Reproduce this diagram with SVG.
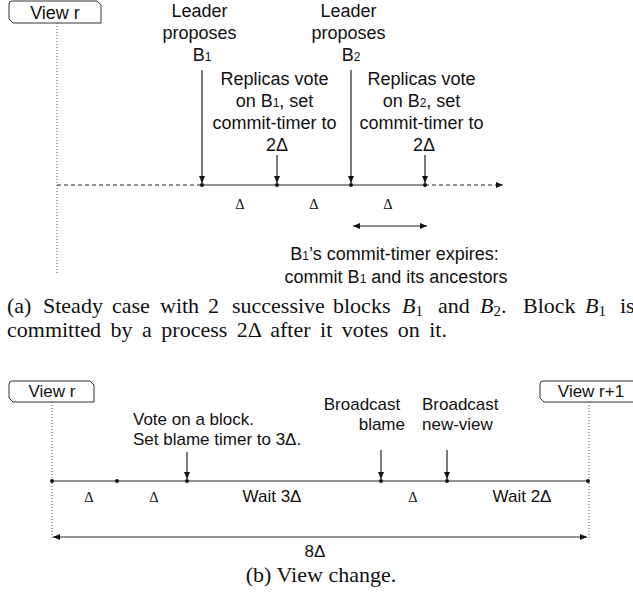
<svg xmlns="http://www.w3.org/2000/svg" width="633" height="598" viewBox="0 0 633 598">
  <style>
    .sans { font-family: "Liberation Sans", Arial, sans-serif; fill: #111; }
    .a { font-size: 18px; }
    .b { font-size: 17px; }
    .serif { font-family: "Liberation Serif", "Times New Roman", serif; fill: #111; }
    .cap { font-size: 22px; }
    .delta { font-size: 14.5px; }
    .sub { font-size: 12px; }
    .line { stroke: #222; stroke-width: 1.2; fill: none; }
    .dash { stroke: #222; stroke-width: 1.2; stroke-dasharray: 4 3; fill: none; }
    .dot { stroke: #555; stroke-width: 1; stroke-dasharray: 1 2; fill: none; }
    .tab { stroke: #333; stroke-width: 1; fill: #fff; }
    .pt { fill: #111; }
  </style>
  <defs>
    <marker id="ah" markerUnits="userSpaceOnUse" markerWidth="8" markerHeight="6" refX="7" refY="3" orient="auto-start-reverse">
      <path d="M0,0 L7,3 L0,6 z" fill="#111"/>
    </marker>
  </defs>
  <rect width="633" height="598" fill="#fff"/>

  <!-- ===== Part (a) ===== -->
  <g id="a-view-r">
    <path class="tab" d="M12,1 H97 L101,5 V23 H13 L9,19 V4 Q9,1 12,1 Z"/>
    <text class="sans a" x="55" y="19" text-anchor="middle">View r</text>
  </g>

  <g id="a-connectors">
    <line class="dot" x1="57" y1="23" x2="57" y2="273"/>
    <line class="dash" x1="57" y1="185" x2="202" y2="185"/>
    <line class="line" x1="202" y1="185" x2="425" y2="185"/>
    <line class="dash" x1="425" y1="185" x2="503" y2="185" marker-end="url(#ah)"/>
    <line class="line" x1="202" y1="70" x2="202" y2="183" marker-end="url(#ah)"/>
    <line class="line" x1="277" y1="155" x2="277" y2="183" marker-end="url(#ah)"/>
    <line class="line" x1="351" y1="70" x2="351" y2="183" marker-end="url(#ah)"/>
    <line class="line" x1="425" y1="155" x2="425" y2="183" marker-end="url(#ah)"/>
    <line class="line" x1="353" y1="226" x2="427" y2="226" marker-start="url(#ah)" marker-end="url(#ah)"/>
    <circle class="pt" cx="202" cy="185" r="2"/>
    <circle class="pt" cx="277" cy="185" r="2"/>
    <circle class="pt" cx="351" cy="185" r="2"/>
    <circle class="pt" cx="425" cy="185" r="2"/>
  </g>

  <g id="a-leader-b1">
    <text class="sans a" text-anchor="middle">
      <tspan x="202" y="17">Leader</tspan>
      <tspan x="202" y="39">proposes</tspan>
      <tspan x="202" y="61">B<tspan class="sub">1</tspan></tspan>
    </text>
  </g>
  <g id="a-vote-b1">
    <text class="sans a" text-anchor="middle">
      <tspan x="277" y="85">Replicas vote</tspan>
      <tspan x="277" y="107">on B<tspan class="sub">1</tspan>, set</tspan>
      <tspan x="277" y="129">commit-timer to</tspan>
      <tspan x="277" y="151">2Δ</tspan>
    </text>
  </g>
  <g id="a-leader-b2">
    <text class="sans a" text-anchor="middle">
      <tspan x="351" y="17">Leader</tspan>
      <tspan x="351" y="39">proposes</tspan>
      <tspan x="351" y="61">B<tspan class="sub">2</tspan></tspan>
    </text>
  </g>
  <g id="a-vote-b2">
    <text class="sans a" text-anchor="middle">
      <tspan x="424" y="85">Replicas vote</tspan>
      <tspan x="424" y="107">on B<tspan class="sub">2</tspan>, set</tspan>
      <tspan x="424" y="129">commit-timer to</tspan>
      <tspan x="424" y="151">2Δ</tspan>
    </text>
  </g>
  <g id="a-deltas">
    <text class="serif delta" x="240" y="209" text-anchor="middle">Δ</text>
    <text class="serif delta" x="314" y="209" text-anchor="middle">Δ</text>
    <text class="serif delta" x="388" y="209" text-anchor="middle">Δ</text>
  </g>
  <g id="a-commit">
    <text class="sans a" text-anchor="middle">
      <tspan x="397" y="260">B<tspan class="sub">1</tspan>’s commit-timer expires:</tspan>
      <tspan x="396" y="283">commit B<tspan class="sub">1</tspan> and its ancestors</tspan>
    </text>
  </g>
  <g id="a-caption">
    <text class="serif cap" y="313">
      <tspan x="7">(a)</tspan>
      <tspan x="43">Steady</tspan>
      <tspan x="112">case</tspan>
      <tspan x="160">with</tspan>
      <tspan x="208">2</tspan>
      <tspan x="232">successive</tspan>
      <tspan x="333">blocks</tspan>
      <tspan x="402" font-style="italic">B</tspan><tspan font-size="15" dy="3">1</tspan>
      <tspan x="438" dy="-3">and</tspan>
      <tspan x="480" font-style="italic">B</tspan><tspan font-size="15" dy="3">2</tspan><tspan dy="-3">.</tspan>
      <tspan x="523">Block</tspan>
      <tspan x="585" font-style="italic">B</tspan><tspan font-size="15" dy="3">1</tspan>
      <tspan x="620" dy="-3">is</tspan>
    </text>
    <text class="serif cap" x="7" y="337" word-spacing="4">committed by a process 2Δ after it votes on it.</text>
  </g>

  <!-- ===== Part (b) ===== -->
  <g id="b-view-r">
    <path class="tab" d="M12,381 H90 L94,385 V402 H13 L9,398 V384 Q9,381 12,381 Z"/>
    <text class="sans b" x="52" y="397" text-anchor="middle">View r</text>
  </g>
  <g id="b-view-r1">
    <path class="tab" d="M640,381 H543 Q540,381 540,384 V398 L544,402 H640"/>
    <text class="sans b" x="591" y="397" text-anchor="middle">View r+1</text>
  </g>

  <g id="b-connectors">
    <line class="dot" x1="52" y1="402" x2="52" y2="540"/>
    <line class="dot" x1="589" y1="402" x2="589" y2="540"/>
    <line class="line" x1="52" y1="481" x2="588" y2="481"/>
    <line class="line" x1="187" y1="452" x2="187" y2="479" marker-end="url(#ah)"/>
    <line class="line" x1="381" y1="450" x2="381" y2="479" marker-end="url(#ah)"/>
    <line class="line" x1="447" y1="450" x2="447" y2="479" marker-end="url(#ah)"/>
    <line class="line" x1="53" y1="537" x2="587" y2="537" marker-start="url(#ah)" marker-end="url(#ah)"/>
    <circle class="pt" cx="52" cy="481" r="2"/>
    <circle class="pt" cx="117" cy="481" r="2"/>
    <circle class="pt" cx="187" cy="481" r="2"/>
    <circle class="pt" cx="381" cy="481" r="2"/>
    <circle class="pt" cx="447" cy="481" r="2"/>
    <circle class="pt" cx="588" cy="481" r="2"/>
  </g>

  <g id="b-vote">
    <text class="sans b">
      <tspan x="133" y="425">Vote on a block.</tspan>
      <tspan x="133" y="445">Set blame timer to 3Δ.</tspan>
    </text>
  </g>
  <g id="b-blame">
    <text class="sans b" text-anchor="end">
      <tspan x="405" y="410">Broadcast</tspan>
      <tspan x="405" y="430">blame</tspan>
    </text>
  </g>
  <g id="b-newview">
    <text class="sans b">
      <tspan x="422" y="410">Broadcast</tspan>
      <tspan x="422" y="430">new-view</tspan>
    </text>
  </g>
  <g id="b-intervals">
    <text class="serif delta" x="89" y="502" text-anchor="middle">Δ</text>
    <text class="serif delta" x="154" y="502" text-anchor="middle">Δ</text>
    <text class="sans b" x="272" y="502" text-anchor="middle">Wait 3Δ</text>
    <text class="serif delta" x="413" y="502" text-anchor="middle">Δ</text>
    <text class="sans b" x="522" y="502" text-anchor="middle">Wait 2Δ</text>
    <text class="sans b" x="315" y="557" text-anchor="middle">8Δ</text>
  </g>
  <g id="b-caption">
    <text class="serif cap" x="321" y="582" text-anchor="middle">(b) View change.</text>
  </g>
</svg>
